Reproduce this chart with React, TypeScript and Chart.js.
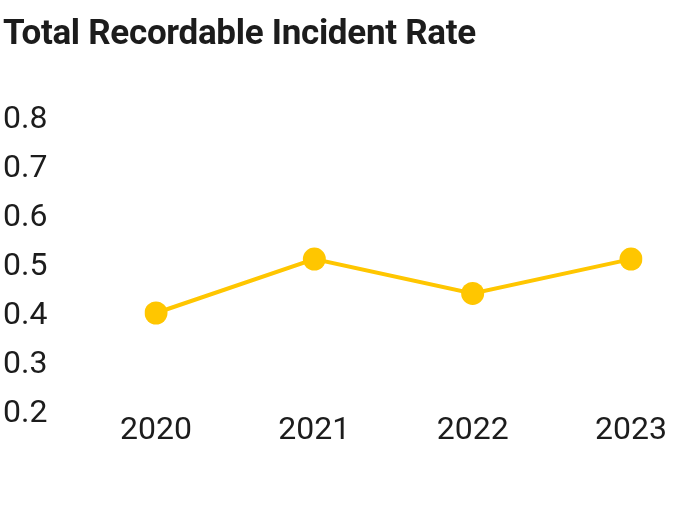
import React, { useEffect, useRef } from "react";
import { Chart, registerables } from "chart.js";

Chart.register(...registerables);

const title = "Total Recordable Incident Rate";
const categories = ["2020", "2021", "2022", "2023"];
const values = [0.4, 0.51, 0.44, 0.51];
const yMin = 0.2;
const yMax = 0.8;
const yStep = 0.1;

const FONT = "Roboto, 'Noto Sans', sans-serif";
const YELLOW = "#FFC600";
const TEXT = "#1c1c1c";

export default function App() {
  const ref = useRef<HTMLCanvasElement | null>(null);

  useEffect(() => {
    document.body.style.margin = "0";
    const canvas = ref.current;
    if (!canvas) return;
    const chart = new Chart(canvas, {
      type: "line",
      data: {
        labels: categories,
        datasets: [
          {
            label: title,
            data: values,
            borderColor: YELLOW,
            backgroundColor: YELLOW,
            borderWidth: 4,
            pointRadius: 11.5,
            pointBorderWidth: 0,
            pointBackgroundColor: YELLOW,
            tension: 0,
          },
        ],
      },
      options: {
        animation: false,
        responsive: true,
        maintainAspectRatio: false,
        layout: { padding: { left: 3, right: 56, top: 117, bottom: 0 } },
        plugins: {
          legend: { display: false },
          tooltip: { enabled: false },
          title: { display: false },
        },
        scales: {
          x: {
            offset: false,
            grid: { display: false, drawTicks: false },
            border: { display: false },
            ticks: {
              color: TEXT,
              font: { family: FONT, size: 32 },
              padding: 1,
              maxRotation: 0,
            },
            afterFit: (scale: any) => {
              scale.height = 120;
            },
          },
          y: {
            min: yMin,
            max: yMax,
            grid: { display: false, drawTicks: false },
            border: { display: false },
            ticks: {
              stepSize: yStep,
              color: TEXT,
              crossAlign: "far",
              padding: 0,
              labelOffset: 3,
              font: { family: FONT, size: 32 },
              callback: (v: any) => Number(v).toFixed(1),
            },
            afterFit: (scale: any) => {
              scale.width = 153;
            },
          },
        },
      },
    });
    return () => chart.destroy();
  }, []);

  return (
    <div style={{ position: "relative", width: 687, height: 531 }}>
      <div
        style={{
          position: "absolute",
          left: 3,
          top: 15,
          fontFamily: FONT,
          fontWeight: 700,
          fontSize: 35,
          lineHeight: 1,
          color: TEXT,
          whiteSpace: "nowrap",
          letterSpacing: -0.3,
        }}
      >
        {title}
      </div>
      <canvas ref={ref} />
    </div>
  );
}
